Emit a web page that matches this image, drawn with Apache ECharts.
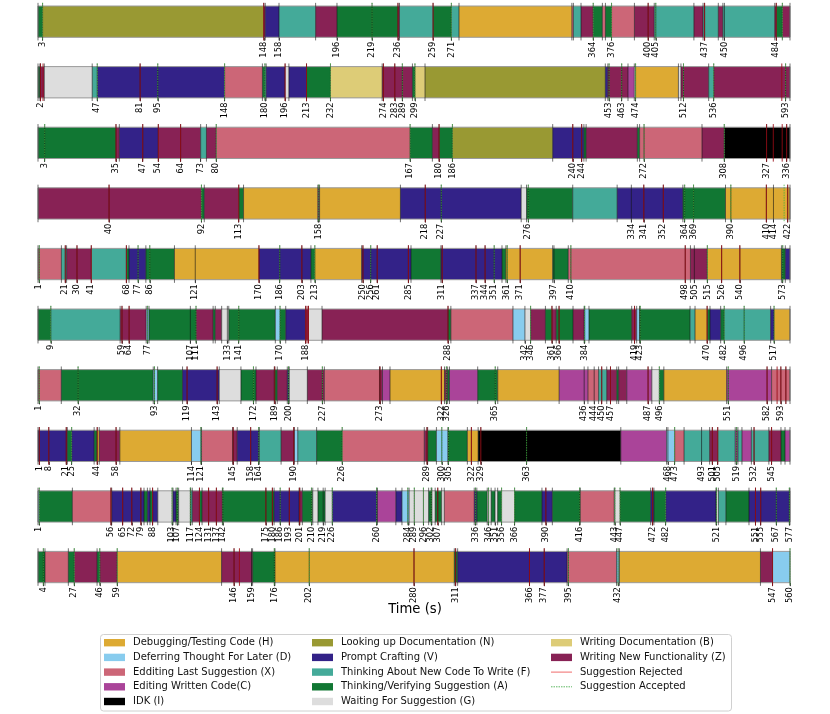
<!DOCTYPE html>
<html>
<head>
<meta charset="utf-8">
<script src="https://cdn.jsdelivr.net/npm/echarts@6/dist/echarts.min.js"></script>
<style>html,body{margin:0;padding:0;background:#fff;}#c{width:830px;height:714px;}</style>
</head>
<body>
<div id="c"></div>
<script>
// ---------- categories ----------
const codeOrder = ['H','D','X','C','I','N','V','F','A','G','B','Z'];
const codeLabels = {
  H:'Debugging/Testing Code (H)', D:'Deferring Thought For Later (D)', X:'Edditing Last Suggestion (X)',
  C:'Editing Written Code(C)', I:'IDK (I)', N:'Looking up Documentation (N)', V:'Prompt Crafting (V)',
  F:'Thinking About New Code To Write (F)', A:'Thinking/Verifying Suggestion (A)', G:'Waiting For Suggestion (G)',
  B:'Writing Documentation (B)', Z:'Writing New Functionality (Z)'
};
const codeColors = {
  H:'#DDAA33', D:'#88CCEE', X:'#CC6677', C:'#AA4499', I:'#000000', N:'#999933', V:'#332288',
  F:'#44AA99', A:'#117733', G:'#DDDDDD', B:'#DDCC77', Z:'#882255'
};

// ---------- row lengths (s) ----------
const rowMax = [493, 596.5, 337.5, 423.3, 578.6, 528.2, 600.3, 558.7, 577.5, 560];

// ---------- row 1 ----------
const row1Segs = [[0,3,'A'],[3,148,'N'],[148,149,'Z'],[149,158,'V'],[158,182,'F'],[182,196,'Z'],[196,236,'A'],[236,237,'Z'],[237,259,'F'],[259,271,'A'],[271,276,'F'],[276,350,'H'],[350,351,'X'],[351,356,'F'],[356,364,'Z'],[364,370,'A'],[370,372,'X'],[372,376,'A'],[376,391,'X'],[391,404,'Z'],[404,430,'F'],[430,436,'Z'],[436,446,'F'],[446,449,'Z'],[449,483,'F'],[483,484,'Z'],[484,488,'A'],[488,493,'Z']];
const row1Ticks = [3,148,158,196,219,236,259,271,364,376,400,405,437,450,484,488];
const row1Rej = [148,236,259,400,437,484];
const row1Acc = [3,219,271,364,376,405,488];

// ---------- row 2 ----------
const row2Segs = [[0,1.5,'A'],[1.5,5,'Z'],[5,43,'G'],[43,47,'F'],[47,148,'V'],[148,178,'X'],[178,180,'A'],[180,181,'F'],[181,196,'V'],[196,199,'G'],[199,213,'V'],[213,232,'A'],[232,273,'B'],[273,297,'Z'],[297,299,'A'],[299,307,'B'],[307,450,'N'],[450,452,'V'],[452,468,'Z'],[468,473,'C'],[473,474,'G'],[474,508,'H'],[508,510,'G'],[510,532,'Z'],[532,536,'F'],[536,596.5,'Z']];
const row2Ticks = [2,47,81,95,148,180,196,213,232,274,283,289,299,453,463,474,512,536,593];
const row2Rej = [2,4,81,196,213,274,283,590];
const row2Acc = [47,95,148,180,232,289,299,453,463,474,512,536,593];

// ---------- row 3 ----------
const row3Segs = [[0,35,'A'],[35,36.5,'Z'],[36.5,54,'V'],[54,73,'Z'],[73,75.6,'F'],[75.6,80,'Z'],[80,167,'X'],[167,177,'A'],[177,180,'Z'],[180,186,'A'],[186,231,'N'],[231,245,'V'],[245,246,'A'],[246,269,'Z'],[269,270,'A'],[270,298,'X'],[298,308,'Z'],[308,337.5,'I']];
const row3Ticks = [3,35,47,54,64,73,80,167,180,186,240,244,272,308,327,336];
const row3Rej = [35,47,54,64,180,240,244,327,330,334,336];
const row3Acc = [3,80,167,186,272,308];

// ---------- row 4 ----------
const row4Segs = [[0,92,'Z'],[92,93.6,'A'],[93.6,113,'Z'],[113,115.7,'A'],[115.7,157.5,'H'],[157.5,158.5,'C'],[158.5,204,'H'],[204,272,'V'],[272,275,'G'],[275,301,'A'],[301,326,'F'],[326,363,'V'],[363,387,'A'],[387,423.3,'H']];
const row4Ticks = [40,92,113,158,218,227,276,334,341,352,364,369,390,410,414,422];
const row4Rej = [40,113,218,341,352,410,422];
const row4Acc = [92,158,227,276,364,369,390,420];

// ---------- row 5 ----------
const row5Segs = [[0,18,'X'],[18,22,'F'],[22,41,'Z'],[41,68,'F'],[68,70,'A'],[70,83,'V'],[83,105,'A'],[105,170,'H'],[170,210,'V'],[210,213,'A'],[213,249,'H'],[249,287,'V'],[287,310,'A'],[310,357,'V'],[357,360,'A'],[360,396,'H'],[396,408,'A'],[408,502,'X'],[502,515,'Z'],[515,572,'H'],[572,575,'A'],[575,578.6,'V']];
const row5Ticks = [1,21,30,41,68,77,86,121,170,186,203,213,250,256,261,285,311,337,344,351,361,371,397,410,498,505,515,526,540,573];
const row5Rej = [21,30,41,68,170,203,250,261,285,311,337,344,371,498,526,540];
const row5Acc = [1,77,86,186,213,256,351,361,410,515,573];

// ---------- row 6 ----------
const row6Segs = [[0,9,'A'],[9,57.7,'F'],[57.7,76,'Z'],[76,78,'D'],[78,111,'A'],[111,123,'Z'],[123,124.5,'A'],[124.5,129,'Z'],[129,134,'G'],[134,166.7,'A'],[166.7,170,'D'],[170,174,'A'],[174,188,'V'],[188,190,'Z'],[190,199.5,'G'],[199.5,288,'Z'],[288,290,'A'],[290,333.6,'X'],[333.6,342,'D'],[342,346,'G'],[346,356.4,'Z'],[356.4,361,'A'],[361,364,'Z'],[364,375.8,'A'],[375.8,383.6,'Z'],[383.6,387,'D'],[387,417,'A'],[417,420.5,'Z'],[420.5,422.5,'D'],[422.5,458,'A'],[458,461.5,'F'],[461.5,470,'H'],[470,472,'A'],[472,479.5,'V'],[479.5,482,'A'],[482,514.6,'F'],[514.6,517,'V'],[517,528.2,'H']];
const row6Ticks = [9,59,64,77,107,111,133,141,170,188,288,342,346,361,366,384,419,423,470,482,496,517];
const row6Rej = [59,64,188,189,190,288,361,366,419,470];
const row6Acc = [9,77,111,141,170,346,384,423,482,496,517];

// ---------- row 7 ----------
const row7Segs = [[0,18.6,'X'],[18.6,92,'A'],[92,95.5,'D'],[95.5,115.4,'A'],[115.4,144.7,'V'],[144.7,162,'G'],[162,174,'A'],[174,188.6,'Z'],[188.6,191,'A'],[191,199,'Z'],[199,200.6,'V'],[200.6,215,'G'],[215,228.6,'Z'],[228.6,272.6,'X'],[272.6,275,'Z'],[275,281,'C'],[281,324.5,'H'],[324.5,327,'Z'],[327,328.5,'A'],[328.5,351,'C'],[351,367,'A'],[367,416,'H'],[416,439,'C'],[439,447.5,'X'],[447.5,454,'F'],[454,462,'Z'],[462,463.5,'A'],[463.5,470,'Z'],[470,490,'C'],[490,496,'G'],[496,499.6,'A'],[499.6,549.7,'H'],[549.7,585.6,'C'],[585.6,600.3,'X']];
const row7Ticks = [1,32,93,119,143,172,189,200,227,273,322,326,365,436,444,450,457,487,496,551,582,593,597];
const row7Rej = [119,143,189,273,322,450,457,487,582,590,593,597];
const row7Acc = [1,32,93,172,200,227,326,365,496,551];

// ---------- row 8 ----------
const row8Segs = [[0,21.8,'V'],[21.8,25,'A'],[25,41.7,'V'],[41.7,44,'A'],[44,45.5,'H'],[45.5,60.8,'Z'],[60.8,114,'H'],[114,121.5,'D'],[121.5,144.6,'X'],[144.6,148,'Z'],[148,164.4,'V'],[164.4,180.6,'F'],[180.6,190.5,'Z'],[190.5,193,'D'],[193,207,'F'],[207,226,'A'],[226,287,'X'],[287,289.5,'Z'],[289.5,296,'A'],[296,304.5,'D'],[304.5,319,'A'],[319,327,'H'],[327,433,'I'],[433,467,'C'],[467,473,'D'],[473,480,'X'],[480,499,'F'],[499,505,'Z'],[505,518,'F'],[518,520,'C'],[520,523,'F'],[523,530,'C'],[530,543,'F'],[543,552,'Z'],[552,555,'A'],[555,558.7,'C']];
const row8Ticks = [1,8,21,25,44,58,114,121,145,158,164,190,226,289,300,305,322,329,363,468,473,493,501,505,519,532,545];
const row8Rej = [1,8,21,44,58,145,158,190,289,322,329,501,505,532,545];
const row8Acc = [25,121,164,226,300,305,363,473,519];

// ---------- row 9 ----------
const row9Segs = [[0,1,'D'],[1,26.4,'A'],[26.4,56.6,'X'],[56.6,81.4,'V'],[81.4,84,'A'],[84,86,'V'],[86,88,'A'],[88,92,'V'],[92,103.7,'G'],[103.7,106,'V'],[106,108,'A'],[108,117.3,'G'],[117.3,118.5,'F'],[118.5,124,'Z'],[124,126,'A'],[126,141.6,'Z'],[141.6,181.3,'A'],[181.3,200.5,'V'],[200.5,203,'Z'],[203,211,'A'],[211,215,'G'],[215,220.5,'A'],[220.5,226,'G'],[226,260.7,'V'],[260.7,274.8,'C'],[274.8,279.5,'V'],[279.5,285,'D'],[285,300,'G'],[300,302.5,'A'],[302.5,305,'G'],[305,310,'A'],[310,312,'G'],[312,335,'X'],[335,337,'V'],[337,345,'A'],[345,348,'G'],[348,351,'A'],[351,353,'G'],[353,356,'A'],[356,366,'G'],[366,387,'A'],[387,395,'V'],[395,416.4,'A'],[416.4,442.5,'X'],[442.5,447,'G'],[447,470.5,'A'],[470.5,473,'V'],[473,482,'A'],[482,520.7,'V'],[520.7,522.5,'G'],[522.5,528.3,'F'],[528.3,546,'A'],[546,577.5,'V']];
const row9Ticks = [1,56,65,72,79,88,103,107,117,124,131,137,142,175,180,186,193,201,210,219,226,260,284,289,296,302,307,336,346,351,356,366,390,416,443,447,472,482,521,551,555,567,577];
const row9Rej = [56,65,72,79,88,124,131,137,175,180,193,201,307,390,472,551,555];
const row9Acc = [1,103,107,117,142,186,210,226,260,284,289,296,302,336,346,356,366,416,443,447,482,521,567,577];

// ---------- row 10 ----------
const row10Segs = [[0,5.2,'A'],[5.2,22.6,'X'],[22.6,27,'A'],[27,44,'Z'],[44,46,'A'],[46,59,'Z'],[59,136.7,'H'],[136.7,159.8,'Z'],[159.8,176.5,'A'],[176.5,310,'H'],[310,312.5,'A'],[312.5,394,'V'],[394,430.8,'X'],[430.8,433,'D'],[433,538,'H'],[538,547,'Z'],[547,560,'D']];
const row10Ticks = [4,27,46,59,146,159,176,202,280,311,366,377,395,432,547,560];
const row10Rej = [146,150,280,311,366,377,547];
const row10Acc = [4,27,46,59,176,202,395,432,560];

// ---------- assemble ----------
const allSegs = [row1Segs,row2Segs,row3Segs,row4Segs,row5Segs,row6Segs,row7Segs,row8Segs,row9Segs,row10Segs];
const allTicks = [row1Ticks,row2Ticks,row3Ticks,row4Ticks,row5Ticks,row6Ticks,row7Ticks,row8Ticks,row9Ticks,row10Ticks];
const allRej = [row1Rej,row2Rej,row3Rej,row4Rej,row5Rej,row6Rej,row7Rej,row8Rej,row9Rej,row10Rej];
const allAcc = [row1Acc,row2Acc,row3Acc,row4Acc,row5Acc,row6Acc,row7Acc,row8Acc,row9Acc,row10Acc];

const FONT = 'DejaVu Sans';
const grids = [], xAxes = [], yAxes = [], series = [];
const LEFT = 38, WIDTH = 752, TOP0 = 6, STEP = 60.6, H = 31.3;

for (let i = 0; i < 10; i++) {
  grids.push({left: LEFT, width: WIDTH, top: TOP0 + i * STEP, height: H});
  xAxes.push({
    gridIndex: i, type: 'value', min: 0, max: rowMax[i],
    axisLine: {show: false}, splitLine: {show: false},
    axisTick: {show: true, customValues: allTicks[i], length: 3.5, lineStyle: {color: '#333', width: 0.8}},
    axisLabel: {customValues: allTicks[i], rotate: 90, fontSize: 8.3, margin: 4.5, color: '#000', fontFamily: FONT, hideOverlap: false}
  });
  yAxes.push({gridIndex: i, type: 'value', min: 0, max: 1, show: false});

  series.push({
    type: 'custom', xAxisIndex: i, yAxisIndex: i, clip: false, silent: true,
    data: allSegs[i].map(s => [s[0], s[1], codeOrder.indexOf(s[2])]),
    encode: {x: [0, 1]},
    renderItem: function (params, api) {
      const p0 = api.coord([api.value(0), 1]);
      const p1 = api.coord([api.value(1), 0]);
      return {type: 'rect', shape: {x: p0[0], y: p0[1], width: p1[0] - p0[0], height: p1[1] - p0[1]},
        style: {fill: codeColors[codeOrder[api.value(2)]]}};
    }
  });

  // event lines: 0 boundary, 1 rejected, 2 accepted
  const bset = new Set([0, rowMax[i]]);
  allSegs[i].forEach(s => bset.add(s[0]));
  allTicks[i].forEach(t => bset.add(t));
  const lineData = [];
  bset.forEach(t => lineData.push([t, 0]));
  allRej[i].forEach(t => lineData.push([t, 1]));
  allAcc[i].forEach(t => lineData.push([t, 2]));
  series.push({
    type: 'custom', xAxisIndex: i, yAxisIndex: i, clip: false, silent: true, z: 3,
    data: lineData, encode: {x: 0},
    renderItem: function (params, api) {
      const k = api.value(1);
      const top = api.coord([api.value(0), 1.1]);
      const bot = api.coord([api.value(0), -0.1]);
      let style;
      if (k === 0) style = {stroke: 'rgba(20,20,20,0.75)', lineWidth: 0.8};
      else if (k === 1) style = {stroke: 'rgba(150,10,20,0.85)', lineWidth: 1};
      else style = {stroke: 'rgba(60,180,60,0.95)', lineWidth: 0.8, lineDash: [1.5, 1]};
      return {type: 'line', shape: {x1: top[0], y1: top[1], x2: bot[0], y2: bot[1]}, style: style};
    }
  });

  // frame
  series.push({
    type: 'custom', xAxisIndex: i, yAxisIndex: i, clip: false, silent: true, z: 2,
    data: [[0, rowMax[i]]], encode: {x: [0, 1]},
    renderItem: function (params, api) {
      const p0 = api.coord([api.value(0), 1]);
      const p1 = api.coord([api.value(1), 0]);
      return {type: 'rect', shape: {x: p0[0], y: p0[1], width: p1[0] - p0[0], height: p1[1] - p0[1]},
        style: {fill: 'none', stroke: '#9a9a9a', lineWidth: 1}};
    }
  });
}

// ---------- legend (graphic) ----------
const legendCols = [['H','D','X','C','I'], ['N','V','F','A','G'], ['B','Z','rej','acc']];
const colPatchX = [104, 312, 551];
const rowY = [642.7, 657.4, 672.1, 686.8, 701.5];
const graphics = [
  {type: 'text', left: 'center', top: 603, style: {text: 'Time (s)', fontSize: 13.2, fontFamily: FONT, fill: '#000'}},
  {type: 'rect', shape: {x: 100.5, y: 634.5, width: 631, height: 76.5, r: 3}, style: {fill: '#fff', stroke: '#d0d0d0', lineWidth: 1}}
];
legendCols.forEach((col, ci) => {
  col.forEach((key, ri) => {
    const x = colPatchX[ci], y = rowY[ri];
    let label;
    if (key === 'rej') {
      graphics.push({type: 'line', shape: {x1: x, y1: y, x2: x + 21, y2: y}, style: {stroke: '#f06a6a', lineWidth: 1}});
      label = 'Suggestion Rejected';
    } else if (key === 'acc') {
      graphics.push({type: 'line', shape: {x1: x, y1: y, x2: x + 21, y2: y}, style: {stroke: '#4caf50', lineWidth: 0.9, lineDash: [1.5, 1]}});
      label = 'Suggestion Accepted';
    } else {
      graphics.push({type: 'rect', shape: {x: x, y: y - 3.7, width: 21, height: 7.4}, style: {fill: codeColors[key]}});
      label = codeLabels[key];
    }
    graphics.push({type: 'text', style: {text: label, x: x + 29, y: y, fontSize: 10, fontFamily: FONT, fill: '#111', verticalAlign: 'middle', align: 'left'}});
  });
});

const chart = echarts.init(document.getElementById('c'), null, {renderer: 'canvas'});
chart.setOption({
  animation: false,
  backgroundColor: '#fff',
  grid: grids, xAxis: xAxes, yAxis: yAxes, series: series,
  graphic: graphics
});
</script>
</body>
</html>
